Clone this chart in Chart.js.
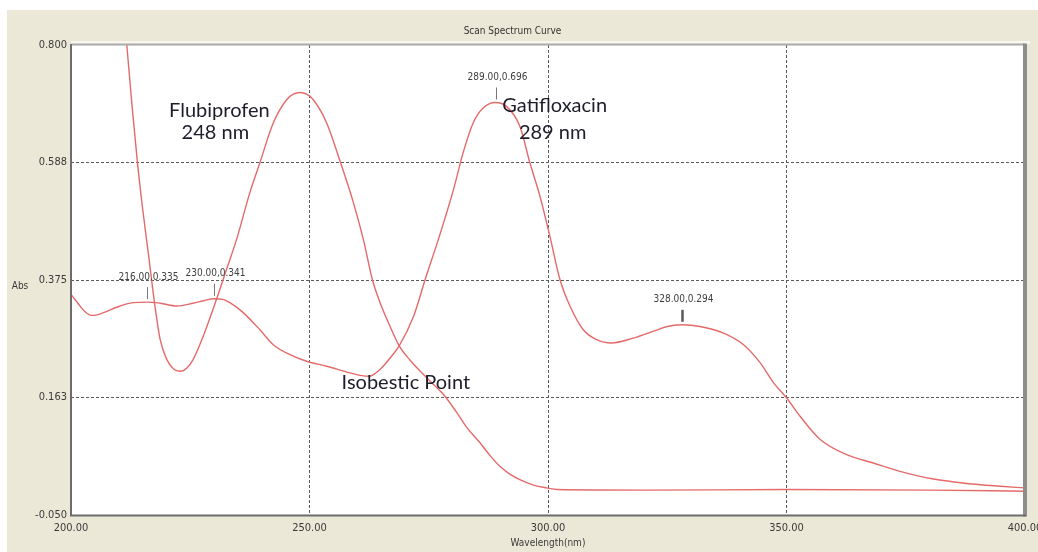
<!DOCTYPE html>
<html>
<head>
<meta charset="utf-8">
<title>Scan Spectrum Curve</title>
<script src="https://cdn.jsdelivr.net/npm/chart.js@4.4.1/dist/chart.umd.min.js"></script>
<style>
  html, body { margin: 0; padding: 0; background: #ffffff; }
  #c { display: block; }
</style>
</head>
<body>
<canvas id="c" width="1038" height="552"></canvas>
<script>
// Flubiprofen absorbance spectrum (wavelength in nm, absorbance)
const flubiWavelength = [211.0, 211.7, 212.8, 213.9, 215.0, 216.2, 217.6, 218.7, 220.1, 221.5, 222.9, 224.3, 225.6, 227.7, 230.5, 232.6, 234.7, 237.5, 239.6, 242.4, 245.2, 246.6, 248.0, 249.4, 250.8, 253.6, 256.4, 259.2, 261.3, 263.2, 264.8, 266.9, 268.8, 271.1, 273.9, 276.0, 278.1, 280.9, 283.0, 285.7, 287.9, 289.9, 292.0, 294.1, 297.0, 299.7, 302.0, 320.0, 350.0, 380.0, 400.0];
const flubiAbsorbance = [0.870, 0.800, 0.690, 0.590, 0.505, 0.424, 0.328, 0.267, 0.231, 0.214, 0.210, 0.216, 0.231, 0.273, 0.340, 0.394, 0.448, 0.533, 0.587, 0.659, 0.701, 0.711, 0.714, 0.711, 0.701, 0.659, 0.590, 0.515, 0.448, 0.375, 0.334, 0.291, 0.256, 0.230, 0.204, 0.186, 0.168, 0.135, 0.108, 0.081, 0.057, 0.038, 0.024, 0.014, 0.004, -0.001, -0.004, -0.005, -0.004, -0.005, -0.007];

// Gatifloxacin absorbance spectrum
const gatiWavelength = [200.0, 201.0, 201.9, 203.0, 204.3, 205.5, 206.8, 210.3, 213.0, 216.0, 218.7, 222.2, 225.6, 228.0, 230.0, 231.8, 233.3, 236.1, 239.6, 242.4, 245.9, 249.4, 253.6, 258.5, 261.0, 262.5, 263.6, 265.0, 266.9, 268.8, 271.8, 274.4, 277.0, 280.2, 282.2, 284.3, 286.4, 289.0, 291.3, 294.1, 296.2, 298.3, 300.4, 302.5, 304.6, 307.4, 310.2, 313.3, 317.9, 322.3, 325.0, 328.0, 331.9, 336.8, 341.0, 344.5, 347.3, 350.0, 352.8, 357.0, 362.6, 368.2, 373.8, 380.8, 387.8, 394.8, 400.0];
const gatiAbsorbance = [0.349, 0.338, 0.328, 0.317, 0.311, 0.312, 0.316, 0.328, 0.334, 0.335, 0.333, 0.328, 0.333, 0.338, 0.341, 0.340, 0.334, 0.316, 0.285, 0.258, 0.240, 0.228, 0.219, 0.207, 0.202, 0.201, 0.205, 0.215, 0.234, 0.256, 0.309, 0.380, 0.448, 0.539, 0.605, 0.659, 0.686, 0.696, 0.689, 0.653, 0.587, 0.527, 0.454, 0.376, 0.328, 0.285, 0.267, 0.261, 0.270, 0.283, 0.291, 0.294, 0.291, 0.279, 0.258, 0.225, 0.189, 0.162, 0.129, 0.087, 0.059, 0.044, 0.029, 0.015, 0.007, 0.002, -0.001];

// Peaks picked by the instrument
const peakWavelength = [216, 230, 289, 328];
const peakAbsorbance = [0.335, 0.341, 0.696, 0.294];

// Axis ticks
const xTicks = [200, 250, 300, 350, 400];
const yTicks = [-0.05, 0.1625, 0.375, 0.5875, 0.8];
const yTickLabels = ['-0.050', '0.163', '0.375', '0.588', '0.800'];

// Hand-written notes placed in data coordinates
const notes = [
  { lines: ['Flubiprofen', '248 nm'], wl: 231.1, abs: 0.682, dy: 22.5, offsets: [0, -4] },
  { lines: ['Gatifloxacin', '289 nm'], wl: 301.4, abs: 0.690, dy: 27, offsets: [0, -2] },
  { lines: ['Isobestic Point'], wl: 270.2, abs: 0.189, dy: 0 }
];

const NARROW = "'Liberation Sans Narrow', 'DejaVu Sans Condensed', 'Liberation Sans', sans-serif";
const NOTE_FONT = "20px Lato, 'Open Sans', sans-serif";
const CURVE = '#e46a6a';
const PANEL = '#ebe8d7';

const toPoints = (xs, ys) => xs.map((x, i) => ({ x: x, y: ys[i] }));

const decor = {
  id: 'decor',
  beforeDraw(chart) {
    const { ctx, chartArea: a } = chart;
    ctx.save();
    ctx.fillStyle = '#ffffff';
    ctx.fillRect(0, 0, chart.width, chart.height);
    ctx.fillStyle = PANEL;
    ctx.fillRect(7, 10, chart.width - 7, chart.height - 10);
    ctx.fillStyle = '#ffffff';
    ctx.fillRect(a.left, a.top, a.right - a.left, a.bottom - a.top);
    ctx.restore();
  },
  afterDraw(chart) {
    const { ctx, chartArea: a, scales } = chart;
    const xs = scales.x, ys = scales.y;
    ctx.save();

    // plot frame
    ctx.fillStyle = '#f9f7ee';
    ctx.fillRect(a.left, a.top - 4, a.right - a.left + 5, 3);
    ctx.fillStyle = '#a9a9a9';
    ctx.fillRect(a.left, a.top - 1.5, a.right - a.left, 2);
    ctx.fillStyle = '#8d8d8d';
    ctx.fillRect(a.right - 2, a.top - 1.5, 4, a.bottom - a.top + 3);
    ctx.fillStyle = '#6c6c6c';
    ctx.fillRect(a.left - 1, a.top - 1, 2, a.bottom - a.top + 2);
    ctx.fillRect(a.left - 1, a.bottom - 0.5, a.right - a.left + 2, 2);

    // "Abs" axis caption
    ctx.fillStyle = '#3a3a3a';
    ctx.font = '10px ' + NARROW;
    ctx.textAlign = 'center';
    ctx.textBaseline = 'middle';
    ctx.fillText('Abs', 20, ys.getPixelForValue(0.363));

    // peak markers with their readouts
    peakWavelength.forEach((wl, i) => {
      const px = Math.round(xs.getPixelForValue(wl)) + 0.5;
      const py = ys.getPixelForValue(peakAbsorbance[i]);
      const thick = i === 3;
      ctx.strokeStyle = thick ? '#5a5a5a' : '#777777';
      ctx.lineWidth = thick ? 2.5 : 1;
      ctx.beginPath();
      ctx.moveTo(px, py - 3);
      ctx.lineTo(px, py - 15);
      ctx.stroke();
      ctx.fillStyle = '#404040';
      ctx.font = '10px ' + NARROW;
      ctx.fillText(wl.toFixed(2) + ',' + peakAbsorbance[i].toFixed(3), px + 1, py - 25);
    });

    // notes
    ctx.fillStyle = '#1d1d2b';
    ctx.font = NOTE_FONT;
    notes.forEach(n => {
      const cx = xs.getPixelForValue(n.wl);
      const cy = ys.getPixelForValue(n.abs);
      n.lines.forEach((t, k) => {
        const off = n.offsets ? n.offsets[k] : 0;
        ctx.fillText(t, cx + off, cy + k * n.dy);
      });
    });
    ctx.restore();
  }
};

new Chart(document.getElementById('c'), {
  type: 'line',
  data: {
    datasets: [
      {
        label: 'Flubiprofen',
        data: toPoints(flubiWavelength, flubiAbsorbance),
        borderColor: CURVE,
        borderWidth: 1.4,
        pointRadius: 0,
        cubicInterpolationMode: 'monotone'
      },
      {
        label: 'Gatifloxacin',
        data: toPoints(gatiWavelength, gatiAbsorbance),
        borderColor: CURVE,
        borderWidth: 1.4,
        pointRadius: 0,
        cubicInterpolationMode: 'monotone'
      }
    ]
  },
  options: {
    responsive: false,
    devicePixelRatio: 1,
    animation: false,
    events: [],
    layout: { padding: { top: 0, right: 13, bottom: 0, left: 0 } },
    plugins: {
      legend: { display: false },
      tooltip: { enabled: false },
      title: {
        display: true,
        text: 'Scan Spectrum Curve',
        color: '#333333',
        font: { family: NARROW, size: 10, weight: 'normal', lineHeight: 1.2 },
        padding: { top: 25, bottom: 8 }
      }
    },
    scales: {
      x: {
        type: 'linear',
        min: 200,
        max: 400,
        afterBuildTicks: s => { s.ticks = xTicks.map(v => ({ value: v })); },
        afterFit: s => { s.height = 37; s.paddingLeft = 0; s.paddingRight = 0; },
        ticks: {
          color: '#3a3a3a',
          font: { family: NARROW, size: 11 },
          padding: 7,
          maxRotation: 0,
          autoSkip: false,
          callback: v => Number(v).toFixed(2)
        },
        grid: {
          drawTicks: false,
          color: c => (c.tick && (c.tick.value === 200 || c.tick.value === 400)) ? 'rgba(0,0,0,0)' : '#5a5a5a',
          lineWidth: 1
        },
        border: { display: false, dash: [3, 2] },
        title: {
          display: true,
          text: 'Wavelength(nm)',
          color: '#3a3a3a',
          font: { family: NARROW, size: 10, lineHeight: 1.2 },
          padding: { top: 0, bottom: 2.5 }
        }
      },
      y: {
        type: 'linear',
        min: -0.05,
        max: 0.8,
        afterBuildTicks: s => { s.ticks = yTicks.map(v => ({ value: v })); },
        afterFit: s => { s.width = 71; },
        ticks: {
          color: '#3a3a3a',
          font: { family: NARROW, size: 11 },
          padding: 4,
          autoSkip: false,
          callback: (v, i) => yTickLabels[i]
        },
        grid: {
          drawTicks: false,
          color: c => (c.tick && (c.index === 0 || c.index === yTicks.length - 1)) ? 'rgba(0,0,0,0)' : '#5a5a5a',
          lineWidth: 1
        },
        border: { display: false, dash: [3, 2] }
      }
    }
  },
  plugins: [decor]
});
</script>
</body>
</html>
